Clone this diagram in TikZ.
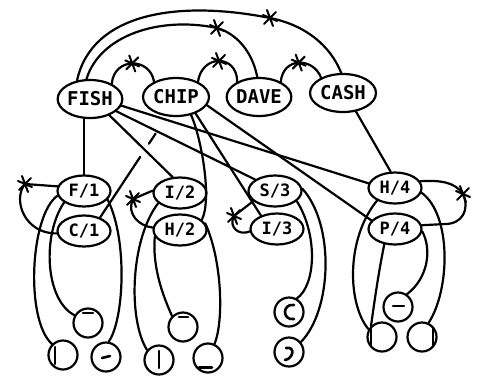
\documentclass[tikz,border=0pt]{standalone}
\usepackage{fontspec}
\newfontfamily\netfont{DejaVu Sans Mono}
\usetikzlibrary{shapes.geometric,calc}
\tikzset{
  word/.style={draw,ellipse,line width=2.2pt,minimum width=64pt,minimum height=38pt,
    inner sep=0pt,font=\netfont\bfseries\fontsize{19}{19}\selectfont},
  letter/.style={word,minimum width=53pt,minimum height=31pt,
    font=\netfont\bfseries\fontsize{17}{17}\selectfont},
  feat/.style={draw,circle,line width=2.2pt,minimum size=29pt,inner sep=0pt},
  glyph/.style={line width=2.6pt},
  inh/.pic={\draw[line width=2pt] (-7,-3)--(7,3) (-3,-8)--(3,8) (-6,6)--(6,-6);},
}
\begin{document}
\begin{tikzpicture}[x=1pt,y=-1pt,line width=2.2pt,line cap=round,line join=round]
  \useasboundingbox (0,0) rectangle (478,376);
  % word nodes
  \node[word] (fish) at (90,99) {FISH};
  \node[word,minimum width=66pt] (chip) at (176,97) {CHIP};
  \node[word] (dave) at (259,97) {DAVE};
  \node[word,minimum width=66pt] (cash) at (343,93) {CASH};
  % letter/position nodes
  \node[letter] (f1) at (84,191) {F/1};
  \node[letter] (c1) at (84,231) {C/1};
  \node[letter] (i2) at (180,193) {I/2};
  \node[letter] (h2) at (180,230) {H/2};
  \node[letter] (s3) at (275,191) {S/3};
  \node[letter] (i3) at (277,229) {I/3};
  \node[letter] (h4) at (395,188) {H/4};
  \node[letter] (p4) at (395,229) {P/4};
  % feature nodes
  \foreach \n/\x/\y in {ca/88/323, cb/63/355, cc/106/357, cd/159/360, ce/183/327,
      cf/208/358, cg/289/312, ch/289/352, ci/398/307, cj/382/337, ck/422/337}
    \node[feat] (\n) at (\x,\y) {};
  % inhibition between words
  \coordinate (xfa) at (270,18);
  \coordinate (xfd) at (217,28);
  \draw (fish.125) .. controls (92,12) and (180,0) .. (xfa)
    .. controls (305,25) and (330,45) .. (cash.95);
  \draw (fish.100) .. controls (100,35) and (160,16) .. (xfd)
    .. controls (235,33) and (252,50) .. (dave.95);
  \draw (fish.35) .. controls (114,57) and (150,57) .. (chip.145) coordinate[pos=.5] (xfc);
  \draw (chip.35) .. controls (202,54) and (237,54) .. (dave.145) coordinate[pos=.5] (xcd);
  \draw (dave.35) .. controls (283,57) and (313,57) .. (cash.145) coordinate[pos=.5] (xdc);
  \foreach \c in {xfa,xfd,xfc,xcd,xdc}
    \pic at (\c) {inh};
  % words to letters
  \draw (f1.north) -- (f1.north |- fish.south);
  \draw (fish.-40) -- (i2.115);
  \draw (fish.-25) -- (s3.150);
  \draw (fish.-12) -- (h4.170);
  \draw ($(chip.245)!.17!(c1.40)$) -- ($(chip.245)!.27!(c1.40)$);
  \draw ($(chip.245)!.40!(c1.40)$) -- (c1.40);
  \draw (chip.-50) .. controls (202,140) and (212,200) .. (h2.25);
  \draw (chip.-40) -- (i3.140);
  \draw (chip.-15) -- (p4.160);
  \draw (cash.-55) -- (h4.105);
  % inhibition between letters
  \coordinate (xf) at (25,184);
  \coordinate (xi) at (133,199);
  \coordinate (xs) at (234,216);
  \coordinate (xh) at (463,194);
  \draw (f1.170) -- (xf) .. controls (12,200) and (25,234) .. (c1.185);
  \draw (i2.175) -- (xi) .. controls (126,215) and (140,226) .. (h2.175);
  \draw (s3.205) -- (xs) .. controls (228,228) and (240,236) .. (i3.185);
  \draw (h4.15) .. controls (440,180) and (455,182) .. (xh)
    .. controls (470,210) and (462,224) .. (445,224) -- (p4.8);
  \foreach \c in {xf,xi,xs,xh}
    \pic at (\c) {inh};
  % letters to features
  \draw (f1.190) .. controls (30,215) and (25,320) .. (cb.135);
  \draw (f1.210) .. controls (42,235) and (45,300) .. (ca.150);
  \draw (f1.-20) .. controls (128,240) and (124,320) .. (cc.80);
  \draw (i2.205) .. controls (130,240) and (128,320) .. (cd.140);
  \draw (h2.195) .. controls (152,270) and (165,300) .. (ce.135);
  \draw (h2.15) .. controls (222,260) and (224,320) .. (cf.65);
  \draw (s3.-25) .. controls (318,235) and (316,285) .. (cg.60);
  \draw (s3.5) .. controls (335,225) and (332,310) .. (ch.40);
  \draw (h4.215) .. controls (345,240) and (348,305) .. (cj.150);
  \draw (p4.235) .. controls (378,275) and (374,305) .. (cj.135);
  \draw (p4.-5) .. controls (432,250) and (428,278) .. (ci.55);
  \draw (h4.-10) .. controls (452,215) and (450,290) .. (ck.65);
  % strokes inside the feature nodes
  \draw[glyph] ([shift={(-5,-10)}]ca.center) -- ([shift={(5,-10)}]ca.center);
  \draw[glyph] ([shift={(-8,-8)}]cb.center) -- ([shift={(-8,9)}]cb.center);
  \draw[glyph] ([shift={(-4,1)}]cc.center) -- ([shift={(4,-1)}]cc.center);
  \draw[glyph] ([shift={(0,-9)}]cd.center) -- ([shift={(0,8)}]cd.center);
  \draw[glyph] ([shift={(-4,-10)}]ce.center) -- ([shift={(5,-10)}]ce.center);
  \draw[glyph] ([shift={(-9,9.5)}]cf.center) -- ([shift={(4,9.5)}]cf.center);
  \draw[glyph] ([shift={(5,-7)}]cg.center) .. controls +(-12,-2) and +(-12,2) .. ([shift={(5,7)}]cg.center);
  \draw[glyph] ([shift={(-3,-4)}]ch.center) .. controls +(10,-2) and +(8,-1) .. ([shift={(-4,8)}]ch.center);
  \draw[glyph] ([shift={(-5,-1)}]ci.center) -- ([shift={(6,-1)}]ci.center);
  \draw[glyph] ([shift={(-11,-8)}]cj.center) -- ([shift={(-11,8)}]cj.center);
  \draw[glyph] ([shift={(11,-9)}]ck.center) -- ([shift={(11,8)}]ck.center);
\end{tikzpicture}
\end{document}
